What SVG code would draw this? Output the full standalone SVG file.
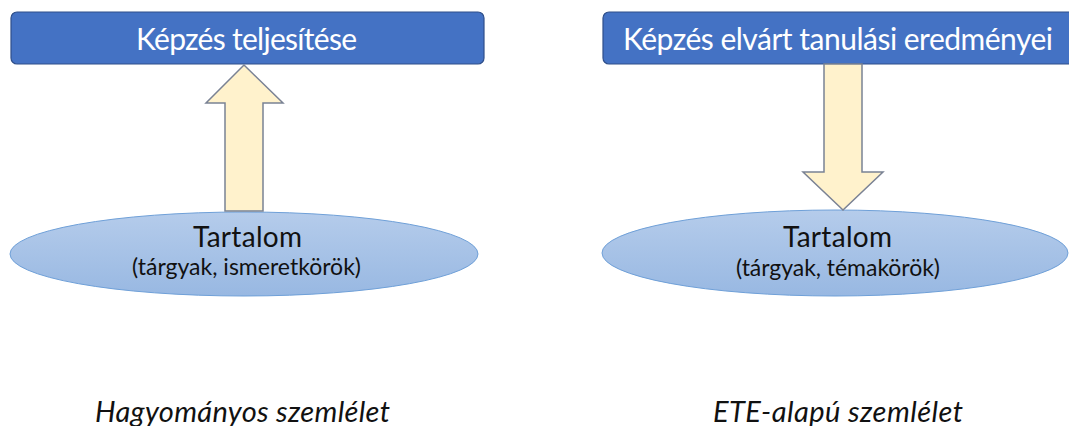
<svg xmlns="http://www.w3.org/2000/svg" width="1069" height="426" viewBox="0 0 1069 426">
  <defs>
    <linearGradient id="ellFill" x1="0" y1="0" x2="0" y2="1">
      <stop offset="0" stop-color="#B5CCEB"/>
      <stop offset="1" stop-color="#98B8E2"/>
    </linearGradient>
    <style>
      .box { fill: #4472C4; stroke: #2F4F8A; stroke-width: 1.2; }
      .box-text { font-family: Lato, "Liberation Sans", sans-serif; font-size: 30px; fill: #FFFFFF; text-anchor: middle; }
      .ell { fill: url(#ellFill); stroke: #6FA0D8; stroke-width: 1; }
      .ell-title { font-family: Lato, "Liberation Sans", sans-serif; font-size: 28px; fill: #111111; text-anchor: middle; }
      .ell-sub { font-family: Lato, "Liberation Sans", sans-serif; font-size: 23px; fill: #111111; text-anchor: middle; }
      .arrow { fill: #FFF2CC; stroke: #7A8294; stroke-width: 1.5; stroke-linejoin: miter; }
      .caption { font-family: Lato, "Liberation Sans", sans-serif; font-size: 29px; font-style: italic; fill: #111111; text-anchor: middle; }
    </style>
  </defs>

  <rect width="1069" height="426" fill="#FFFFFF"/>

  <!-- left side: traditional view -->
  <g id="left-content">
    <ellipse class="ell" cx="244" cy="254" rx="234" ry="42"/>
    <text class="ell-title" x="247.5" y="247" textLength="109">Tartalom</text>
    <text class="ell-sub" x="246.5" y="275" textLength="229">(tárgyak, ismeretkörök)</text>
  </g>

  <g id="left-result">
    <rect class="box" x="11" y="12" width="473" height="52" rx="6" ry="6"/>
    <text class="box-text" x="246.5" y="50" textLength="221">Képzés teljesítése</text>
  </g>

  <!-- right side: outcome-based view -->
  <g id="right-content">
    <ellipse class="ell" cx="835" cy="253" rx="233" ry="43"/>
    <text class="ell-title" x="837.5" y="247" textLength="109">Tartalom</text>
    <text class="ell-sub" x="838" y="276" textLength="204">(tárgyak, témakörök)</text>
  </g>

  <g id="right-outcomes">
    <rect class="box" x="603" y="12" width="480" height="52" rx="6" ry="6"/>
    <text class="box-text" x="838" y="50" textLength="430">Képzés elvárt tanulási eredményei</text>
  </g>

  <!-- block arrows -->
  <g id="connectors">
    <path class="arrow" d="M225,211 L225,103 L206,103 L244,65 L283,103 L263,103 L263,211 Z"/>
    <path class="arrow" d="M824,64 L824,172 L803,172 L843,210 L883,172 L862,172 L862,64 Z"/>
  </g>

  <!-- captions -->
  <g id="captions">
    <text class="caption" x="242.5" y="422" textLength="295">Hagyományos szemlélet</text>
    <text class="caption" x="838" y="422" textLength="250">ETE-alapú szemlélet</text>
  </g>
</svg>
